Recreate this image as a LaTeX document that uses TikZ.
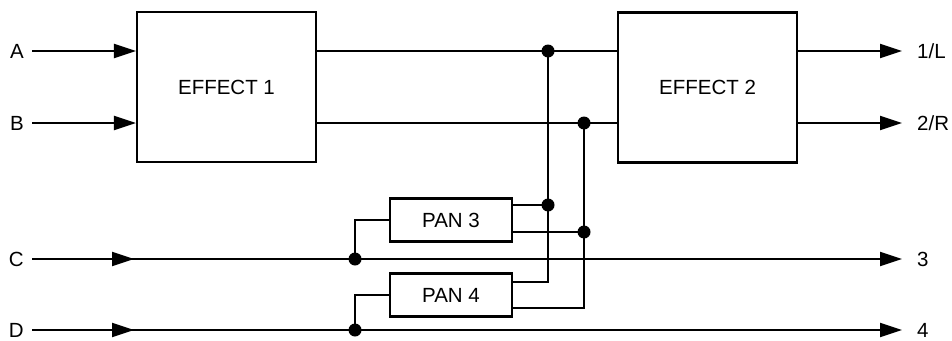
\documentclass[tikz,border=0pt]{standalone}
\usepackage{fontspec}
\setmainfont{Liberation Sans}
\usetikzlibrary{arrows.meta,positioning,calc}

\begin{document}
\begin{tikzpicture}[
		x=1pt, y=-1pt,
		>={Triangle[length=22pt,width=14pt]},
		every node/.style={font=\fontsize{20.5}{24}\selectfont},
		wire/.style={line width=2.1pt},
		block/.style={draw, line width=2.2pt, minimum width=179pt, minimum height=150pt, inner sep=0pt},
		panbox/.style={draw, line width=2.2pt, minimum width=122pt, minimum height=43pt, inner sep=0pt},
		inlbl/.style={anchor=east, inner xsep=8pt, inner ysep=0pt},
		outlbl/.style={anchor=west, inner xsep=15pt, inner ysep=0pt},
		dot/.style={fill=black}
		]
		
		\useasboundingbox (0,0) rectangle (952,340);
		
		% --------------------------------------------------
		% Blocks
		% --------------------------------------------------
		\node[block] (E1) at (226.5,87) {EFFECT 1};
		\node[block] (E2) at (707.5,87.5) {EFFECT 2};
		\node[panbox] (P3) at (451,220) {PAN 3};
		\node[panbox] (P4) at (451,295) {PAN 4};
		
		% --------------------------------------------------
		% Inputs and outputs
		% --------------------------------------------------
		\node[inlbl] (A) at (32,51) {A};
		\node[inlbl] (B) at (32,123) {B};
		\node[inlbl] (C) at (32,259) {C};
		\node[inlbl] (D) at (32,330) {D};
		
		\node[outlbl] (O1) at (902,51) {1/L};
		\node[outlbl] (O2) at (902,123) {2/R};
		\node[outlbl] (O3) at (902,259) {3};
		\node[outlbl] (O4) at (902,330) {4};
		
		% tap points
		\coordinate (atap) at (548,51);
		\coordinate (btap) at (584,123);
		\coordinate (ctap) at (355,259);
		\coordinate (dtap) at (355,330);
		\coordinate (p3a) at (548,205);
		\coordinate (p3b) at (584,232);
		\coordinate (p4a) at (548,282);
		\coordinate (p4b) at (584,308);
		\coordinate (cin) at (134,259);
		\coordinate (din) at (134,330);
		
		% --------------------------------------------------
		% Wiring
		% --------------------------------------------------
		\draw[wire,->] (A.east) -- (E1.west |- A);
		\draw[wire,->] (B.east) -- (E1.west |- B);
		\draw[wire] (E1.east |- atap) -- (E2.west |- atap);
		\draw[wire] (E1.east |- btap) -- (E2.west |- btap);
		\draw[wire,->] (E2.east |- O1) -- (O1.west);
		\draw[wire,->] (E2.east |- O2) -- (O2.west);
		
		% through lines, with an arrow part way along
		\draw[wire,->] (C.east) -- (O3.west);
		\draw[wire,->] (C.east) -- (cin);
		\draw[wire,->] (D.east) -- (O4.west);
		\draw[wire,->] (D.east) -- (din);
		
		\draw[wire] (ctap) |- (P3.west);
		\draw[wire] (dtap) |- (P4.west);
		
		\draw[wire] (P3.east |- p3a) -- (p3a);
		\draw[wire] (P3.east |- p3b) -- (p3b);
		\draw[wire] (P4.east |- p4a) -- (p4a) -- (atap);
		\draw[wire] (P4.east |- p4b) -- (p4b) -- (btap);
		
		% junction dots
		\foreach \j in {atap,btap,ctap,dtap,p3a,p3b}
		\fill[dot] (\j) circle (6.5pt);
		
	\end{tikzpicture}
\end{document}
